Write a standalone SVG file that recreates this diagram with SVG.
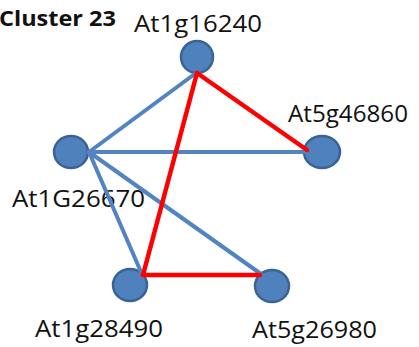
<svg xmlns="http://www.w3.org/2000/svg" width="419" height="347" viewBox="0 0 419 347">
  <style>
    .node { fill: #4F81BD; stroke: #3A6395; stroke-width: 2.5; }
    .lbl { font-family: "Open Sans", "Liberation Sans", sans-serif; font-size: 24px; fill: #111; }
    .title { font-family: "Open Sans", "Liberation Sans", sans-serif; font-size: 22px; font-weight: bold; fill: #111; }
    .weak { stroke: #5283C2; stroke-width: 4; stroke-linecap: round; fill: none; }
    .strong { stroke: #FF0000; stroke-width: 4.5; stroke-linecap: round; fill: none; }
  </style>
  <rect width="419" height="347" fill="#ffffff"/>
  <text class="title" x="-1" y="26" textLength="117" lengthAdjust="spacingAndGlyphs">Cluster 23</text>

  <g id="n-At1g16240">
    <circle class="node" cx="197" cy="57" r="16"/>
    <text class="lbl" x="134" y="32" textLength="128" lengthAdjust="spacingAndGlyphs">At1g16240</text>
  </g>
  <g id="n-At5g46860">
    <ellipse class="node" cx="322" cy="152" rx="18" ry="16"/>
    <text class="lbl" x="288" y="122" textLength="120" lengthAdjust="spacingAndGlyphs">At5g46860</text>
  </g>
  <g id="n-At1G26670">
    <ellipse class="node" cx="71" cy="152" rx="17" ry="16"/>
    <text class="lbl" x="12" y="207" textLength="133" lengthAdjust="spacingAndGlyphs">At1G26670</text>
  </g>
  <g id="n-At1g28490">
    <ellipse class="node" cx="130" cy="285" rx="17" ry="16"/>
    <text class="lbl" x="35" y="337" textLength="128" lengthAdjust="spacingAndGlyphs">At1g28490</text>
  </g>
  <g id="n-At5g26980">
    <ellipse class="node" cx="272" cy="286" rx="17" ry="16"/>
    <text class="lbl" x="252" y="338" textLength="125" lengthAdjust="spacingAndGlyphs">At5g26980</text>
  </g>

  <g id="edges">
    <line class="weak" x1="89" y1="152" x2="196" y2="73"/>
    <line class="weak" x1="89" y1="152" x2="307" y2="152"/>
    <line class="weak" x1="89" y1="152" x2="141" y2="272"/>
    <line class="weak" x1="89" y1="152" x2="261" y2="274"/>
    <line class="strong" x1="197" y1="73" x2="307" y2="150"/>
    <line class="strong" x1="197" y1="73" x2="143" y2="275"/>
    <line class="strong" x1="143" y1="275" x2="260" y2="275"/>
  </g>
</svg>
